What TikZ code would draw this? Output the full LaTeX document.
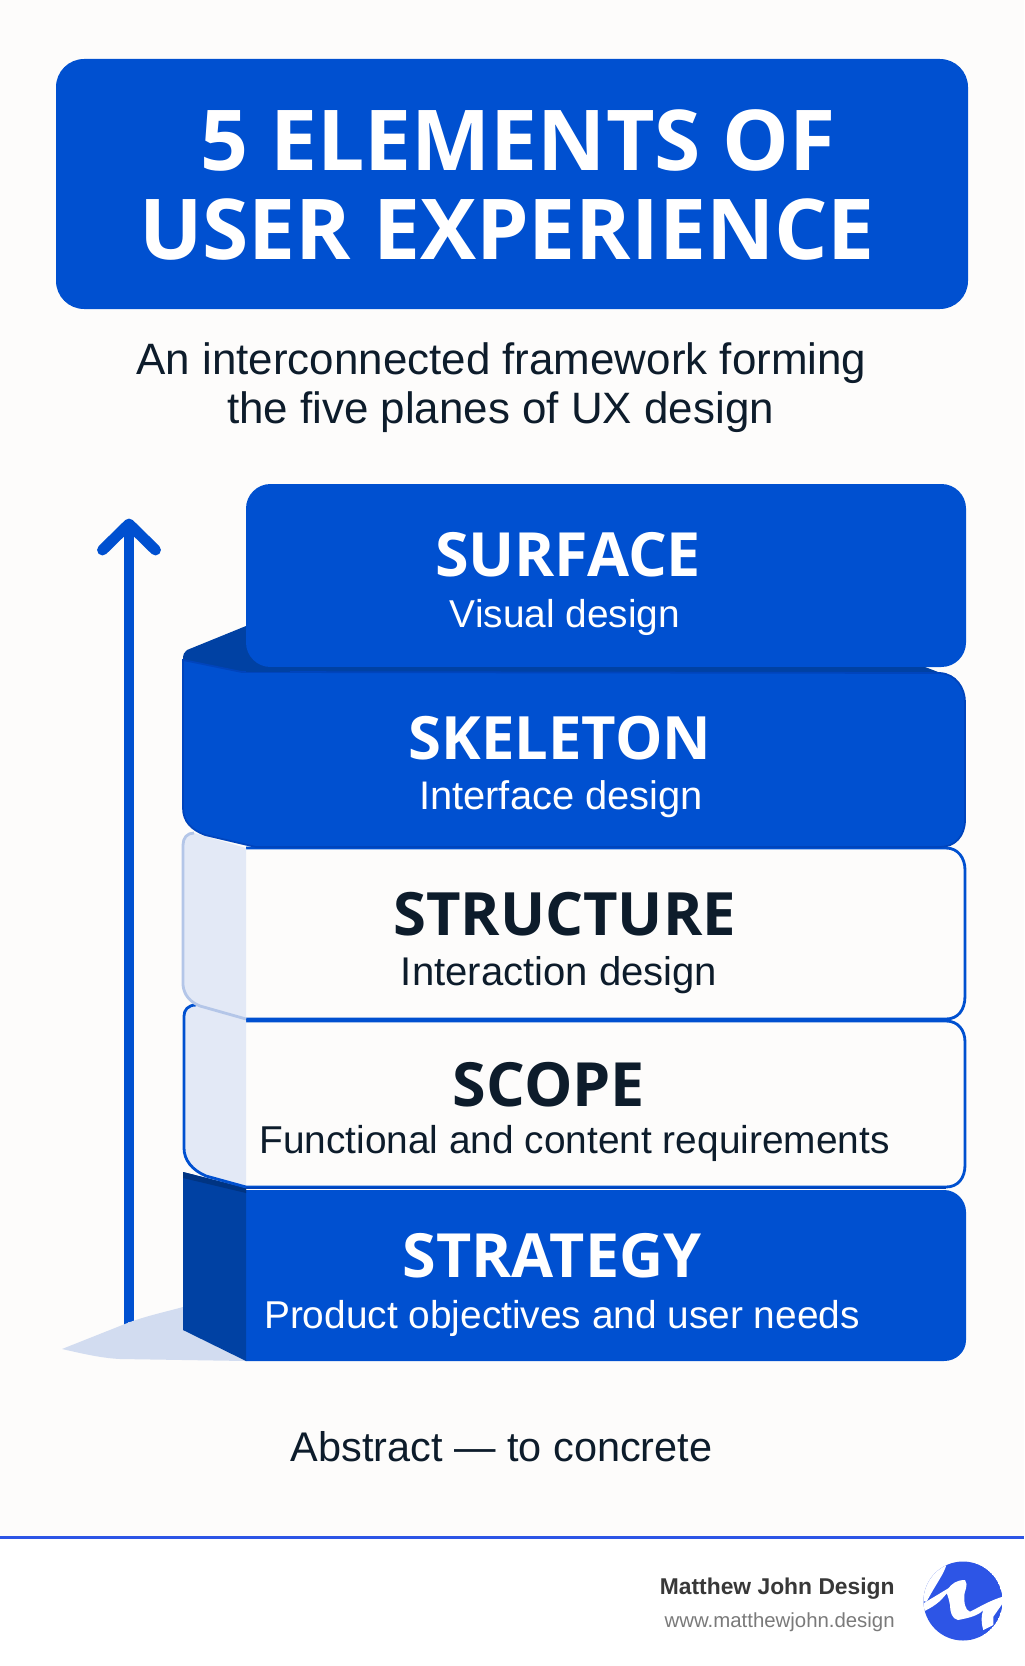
\documentclass[tikz,border=0pt]{standalone}
\usepackage{fontspec}
\setmainfont{Liberation Sans}
\newfontfamily\headfont{Open Sans}
\definecolor{uxblue}{HTML}{0050D0}
\definecolor{uxedge}{HTML}{0044BC}
\definecolor{uxdark}{HTML}{0041A3}
\definecolor{uxpale}{HTML}{E3E9F6}
\definecolor{uxpaleedge}{HTML}{B4C6E8}
\definecolor{uxfloor}{HTML}{D2DCF0}
\definecolor{uxpaper}{HTML}{FDFCFB}
\definecolor{uxink}{HTML}{0D1C2B}
\definecolor{uxrule}{HTML}{2D55E6}
\newcommand{\pxfont}[1]{\fontsize{#1}{#1}\selectfont}
\tikzset{
	planehead/.style={anchor=base,inner sep=0pt,font=\headfont\bfseries\pxfont{34.7}},
	planesub/.style={anchor=base,inner sep=0pt,font=\pxfont{22.1}},
	bluetext/.style={text=white},
	darktext/.style={text=uxink},
	titleline/.style={anchor=base,inner sep=0pt,text=white,font=\headfont\bfseries\pxfont{47.8}},
	subline/.style={anchor=base,inner sep=0pt,text=uxink,font=\pxfont{25}},
}
\begin{document}
\begin{tikzpicture}[x=0.02cm,y=-0.02cm]
	\useasboundingbox (0,0) rectangle (1024,1666);
	\fill[uxpaper] (0,0) rectangle (1024,1537);
	\fill[white] (0,1537) rectangle (1024,1666);
	\fill[uxrule] (0,1535.5) rectangle (1024,1538.5);
	% header
	\fill[uxblue,rounded corners=16pt] (56,59) rectangle (968,309);
	\node[titleline] (titlea) at (518,170) {5 ELEMENTS OF};
	\node[titleline] (titleb) at (507,259) {USER EXPERIENCE};
	\node[subline] (suba) at (501.5,374.5) {An interconnected framework forming};
	\node[subline] (subb) at (500.5,423.5) {the five planes of UX design};
	% arrow and floor
	\coordinate (arrowfoot) at (129,1332);
	\coordinate (arrowtip) at (129,524);
	\draw[uxblue,line width=6.2pt] (arrowfoot) -- (arrowtip);
	\draw[uxblue,line width=6.2pt,line cap=round,line join=round] (102.5,550) -- (129,524) -- (155.5,550);
	\fill[uxpaper] (100,1345) -- (129,1322) -- (160,1345) -- cycle;
	\fill[uxfloor] (62,1349) -- (130,1322) .. controls (150,1315) and (165,1312) .. (183,1307) -- (183,1330) -- (246,1361) -- (120,1359) .. controls (100,1358) and (80,1353) .. (62,1349);
	% strategy
	\fill[uxblue] (246,1190) -- (944,1190) .. controls (956,1190) and (966,1200) .. (966,1212) -- (966,1340) .. controls (966,1352) and (956,1361) .. (944,1361) -- (246,1361) -- cycle;
	\fill[uxdark] (183,1172) -- (246,1188) -- (246,1361) -- (183,1330) -- cycle;
	\fill[uxdark!80!black] (183,1172) -- (246,1188) -- (246,1193) -- (183,1178) -- cycle;
	% scope
	\fill[uxpaper] (246,1021) -- (946,1021) .. controls (958,1021) and (965,1030) .. (965,1042) -- (965,1165) .. controls (965,1178) and (958,1187) .. (946,1187) -- (246,1187) -- cycle;
	\draw[uxblue,line width=1.6pt] (246,1021) -- (946,1021) .. controls (958,1021) and (965,1030) .. (965,1042) -- (965,1165) .. controls (965,1178) and (958,1187) .. (946,1187) -- (246,1187);
	\fill[uxpale] (196,1006) -- (246,1019) -- (246,1186) -- (206,1176) .. controls (192,1170) and (184,1160) .. (184,1148) -- (184,1016) .. controls (184,1010) and (188,1006) .. (196,1006);
	\draw[uxblue,line width=1.6pt] (196,1005) .. controls (188,1005) and (184,1010) .. (184,1016) -- (184,1148) .. controls (184,1160) and (192,1170) .. (206,1176) -- (246,1187);
	\draw[uxedge,line width=1.6pt] (246,1188) -- (946,1188);
	% structure
	\fill[uxpaper] (246,1019) -- (946,1019) .. controls (958,1019) and (965,1010) .. (965,996) -- (965,870) .. controls (965,858) and (958,848) .. (946,848) -- (246,848) -- cycle;
	\draw[uxblue,line width=1.6pt] (246,1019) -- (946,1019) .. controls (958,1019) and (965,1010) .. (965,996) -- (965,870) .. controls (965,858) and (958,848) .. (946,848) -- (246,848);
	\fill[uxpale] (246,848) -- (194,833) .. controls (187,833) and (183,838) .. (183,845) -- (183,985) .. controls (184,995) and (190,1002) .. (200,1006) -- (246,1019) -- cycle;
	\draw[uxpaleedge,line width=1.6pt] (194,833) .. controls (187,833) and (183,838) .. (183,845) -- (183,985) .. controls (184,995) and (190,1002) .. (200,1006) -- (246,1019);
	% skeleton
	\fill[uxdark] (246,626) -- (187,650) .. controls (184,652) and (183,654) .. (183,660) -- (240,675) -- (946,675) -- (925,667) -- (280,667) -- (246,640) -- cycle;
	\fill[uxblue,draw=uxedge,line width=1pt] (183,660) -- (232,670) -- (242,672) -- (940,673) .. controls (956,674) and (965,688) .. (965,702) -- (965,820) .. controls (965,836) and (955,847) .. (940,847) -- (256,847) -- (205,835) .. controls (192,830) and (183,822) .. (183,808) -- cycle;
	% surface
	\fill[uxdark] (246,626) rectangle (290,672);
	\fill[uxblue,rounded corners=14pt] (246,484) rectangle (966,667);
	\draw[uxdark,line width=1.6pt] (270,668) -- (925,668);
	% labels
	\node[planehead,bluetext] (surface) at (568,576) {SURFACE};
	\node[planesub,bluetext] (surfacesub) at (565,627.5) {Visual design};
	\node[planehead,bluetext,font=\headfont\bfseries\pxfont{34}] (skeleton) at (560,759) {SKELETON};
	\node[planesub,bluetext,font=\pxfont{22.7}] (skeletonsub) at (561,809.5) {Interface design};
	\node[planehead,darktext,font=\headfont\bfseries\pxfont{34}] (structure) at (564.5,935) {STRUCTURE};
	\node[planesub,darktext,font=\pxfont{22.8}] (structuresub) at (559,985.5) {Interaction design};
	\node[planehead,darktext] (scope) at (549,1106) {SCOPE};
	\node[planesub,darktext] (scopesub) at (574.5,1153.5) {Functional and content requirements};
	\node[planehead,bluetext] (strategy) at (552,1277) {STRATEGY};
	\node[planesub,bluetext] (strategysub) at (562,1328.5) {Product objectives and user needs};
	\node[subline,font=\pxfont{23.6}] (abstract) at (501.5,1461.5) {Abstract — to concrete};
	% footer
	\node[anchor=base east,inner sep=0pt,text=black!78,font=\bfseries\pxfont{13}] (brand) at (895,1594) {Matthew John Design};
	\node[anchor=base east,inner sep=0pt,text=black!52,font=\pxfont{11.6}] (site) at (895,1627) {www.matthewjohn.design};
	\begin{scope}
		\clip (963,1601) circle (39.5);
		\fill[uxrule] (963,1601) circle (39.5);
		\fill[white] (915,1600) -- (920,1555) -- (946.7,1555) -- (946.7,1563.3) .. controls (945,1573) and (935,1585) .. (926.7,1601.7) -- cycle;
		\fill[white] (924,1603) -- (948.3,1588.3) .. controls (952,1584) and (956,1580) .. (965,1580) .. controls (969,1585) and (964,1592) .. (964.3,1595) .. controls (964,1603) and (965,1610) .. (970,1611.7) .. controls (976,1609) and (990,1600) .. (1005,1596) -- (1005,1600) -- (993.3,1616.7) -- (993.3,1625) -- (983.3,1630) .. controls (981,1622) and (981,1616) .. (983.3,1610) .. controls (978,1616) and (968,1618) .. (958,1620) .. controls (952,1619) and (950,1612) .. (950,1605) .. controls (949,1600) and (948,1596) .. (946.7,1593.3) .. controls (940,1602) and (934,1607) .. (918,1614) -- cycle;
	\end{scope}
\end{tikzpicture}
\end{document}
